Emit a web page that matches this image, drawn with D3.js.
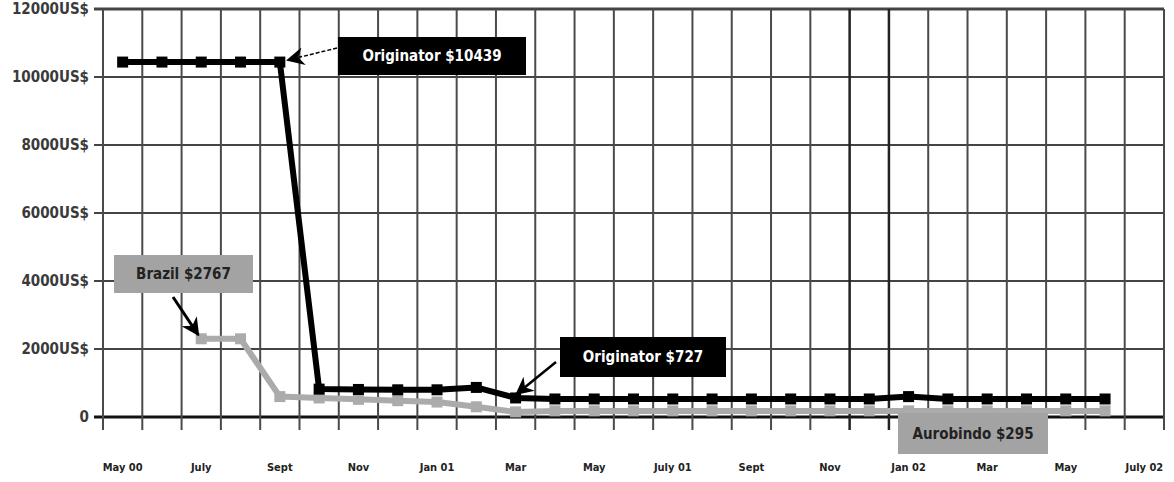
<!DOCTYPE html>
<html>
<head>
<meta charset="utf-8">
<title>Triple combination price drop</title>
<script src="https://d3js.org/d3.v7.min.js"></script>
<style>
  body { margin: 0; background: #fff; }
  text { font-family: "Liberation Sans Narrow", "DejaVu Sans Condensed", "Liberation Sans", sans-serif; }
</style>
</head>
<body>
<svg width="1174" height="482"></svg>
<script>
// months on the category axis (May 2000 - July 2002)
var months = ["May 00","Jun 00","Jul 00","Aug 00","Sep 00","Oct 00","Nov 00","Dec 00",
  "Jan 01","Feb 01","Mar 01","Apr 01","May 01","Jun 01","Jul 01","Aug 01","Sep 01","Oct 01","Nov 01","Dec 01",
  "Jan 02","Feb 02","Mar 02","Apr 02","May 02","Jun 02","Jul 02"];

// labels shown on every other month
var xTickLabels = ["May 00","July","Sept","Nov","Jan 01","Mar","May","July 01","Sept","Nov","Jan 02","Mar","May","July 02"];

var yTicks = [0, 2000, 4000, 6000, 8000, 10000, 12000];
var yTickLabels = ["0", "2000US$", "4000US$", "6000US$", "8000US$", "10000US$", "12000US$"];

// originator price (black)
var originator = [10439, 10439, 10439, 10439, 10439, 820, 810, 800, 800, 870, 560, 530, 530, 530, 530, 530,
  530, 530, 530, 530, 600, 530, 530, 530, 530, 530, null];

// generic prices: Brazil then Aurobindo (grey)
var generic = [null, null, 2300, 2300, 600, 560, 520, 480, 440, 300, 150, 180, 180, 180, 180, 180,
  180, 180, 180, 180, 180, 180, 180, 180, 180, 180, null];

// callout texts
var calloutText = ["Originator $10439", "Brazil $2767", "Originator $727", "Aurobindo $295"];

var svg = d3.select("svg");

var x = d3.scaleBand().domain(months).range([103, 1164]).padding(0);
var y = d3.scaleLinear().domain([0, 12000]).range([417, 9]);
var bw = x.bandwidth();
var cx = function (i) { return x(months[i]) + bw / 2; };

// horizontal grid
svg.append("g").selectAll("line")
  .data(yTicks)
  .enter().append("line")
  .attr("x1", 94).attr("x2", x.range()[1])
  .attr("y1", function (d) { return y(d); })
  .attr("y2", function (d) { return y(d); })
  .attr("stroke", function (d) { return d === 0 ? "#111" : "#444"; })
  .attr("stroke-width", function (d) { return d === 0 || d === 12000 ? 3 : 2; });

// vertical grid between categories, poking below the zero line
svg.append("g").selectAll("line")
  .data(d3.range(months.length + 1))
  .enter().append("line")
  .attr("x1", function (i) { return x.range()[0] + i * x.step(); })
  .attr("x2", function (i) { return x.range()[0] + i * x.step(); })
  .attr("y1", y(12000)).attr("y2", y(0) + 13)
  .attr("stroke", function (i) { return i === 19 || i === 20 ? "#222" : "#4a4a4a"; })
  .attr("stroke-width", function (i) { return i === 19 || i === 20 ? 2.5 : 2; });

// y labels
svg.append("g").selectAll("text")
  .data(yTicks)
  .enter().append("text")
  .attr("x", 89)
  .attr("y", function (d) { return y(d); })
  .attr("dy", "0.35em")
  .attr("text-anchor", "end")
  .attr("font-size", 15)
  .attr("font-weight", "bold")
  .attr("fill", "#3a3a3a")
  .text(function (d, i) { return yTickLabels[i]; });

// x labels
svg.append("g").selectAll("text")
  .data(xTickLabels)
  .enter().append("text")
  .attr("x", function (d, i) { return cx(i * 2); })
  .attr("y", 471)
  .attr("text-anchor", "middle")
  .attr("font-size", 11)
  .attr("font-weight", "bold")
  .attr("fill", "#222")
  .text(function (d) { return d; });

function drawSeries(values, colour) {
  var line = d3.line()
    .defined(function (d) { return d != null; })
    .x(function (d, i) { return cx(i); })
    .y(function (d) { return y(d); });
  svg.append("path")
    .datum(values)
    .attr("d", line)
    .attr("fill", "none")
    .attr("stroke", colour)
    .attr("stroke-width", 6)
    .attr("stroke-linejoin", "round");
  svg.append("g").selectAll("rect")
    .data(values.map(function (v, i) { return { v: v, i: i }; }).filter(function (d) { return d.v != null; }))
    .enter().append("rect")
    .attr("x", function (d) { return cx(d.i) - 5.5; })
    .attr("y", function (d) { return y(d.v) - 5.5; })
    .attr("width", 11).attr("height", 11)
    .attr("fill", colour);
}

drawSeries(generic, "#ababab");
drawSeries(originator, "#000");

// arrow heads
var defs = svg.append("defs");
defs.append("marker")
  .attr("id", "head")
  .attr("viewBox", "0 0 10 10")
  .attr("refX", 9).attr("refY", 5)
  .attr("markerWidth", 18).attr("markerHeight", 18)
  .attr("markerUnits", "userSpaceOnUse")
  .attr("orient", "auto")
  .append("path")
  .attr("d", "M0,0 L10,5 L0,10 L3,5 Z")
  .attr("fill", "#000");

function callout(text, bx, by, bw2, bh, fill, colour) {
  svg.append("rect")
    .attr("x", bx).attr("y", by).attr("width", bw2).attr("height", bh)
    .attr("fill", fill);
  svg.append("text")
    .attr("x", bx + bw2 / 2).attr("y", by + bh / 2)
    .attr("dy", "0.35em")
    .attr("text-anchor", "middle")
    .attr("font-size", 15)
    .attr("font-weight", "bold")
    .attr("fill", colour)
    .text(text);
}

function arrow(x1, y1, x2, y2, width, dash) {
  svg.append("line")
    .attr("x1", x1).attr("y1", y1).attr("x2", x2).attr("y2", y2)
    .attr("stroke", "#000")
    .attr("stroke-width", width)
    .attr("stroke-dasharray", dash || null)
    .attr("marker-end", "url(#head)");
}

// Originator $10439
arrow(337, 48, cx(4) + 8, y(originator[4]) - 2, 1.5, "4,2");
callout(calloutText[0], 338, 37, 188, 38, "#000", "#fff");

// Brazil $2767
arrow(173, 297, cx(2) - 3, y(generic[2]) - 4, 3);
callout(calloutText[1], 114, 255, 139, 38, "#a3a3a3", "#222");

// Originator $727
arrow(556, 362, cx(10) + 1, y(originator[10]) - 4, 2.5);
callout(calloutText[2], 560, 337, 166, 40, "#000", "#fff");

// Aurobindo $295
callout(calloutText[3], 898, 413, 150, 41, "#a3a3a3", "#222");
</script>
</body>
</html>
